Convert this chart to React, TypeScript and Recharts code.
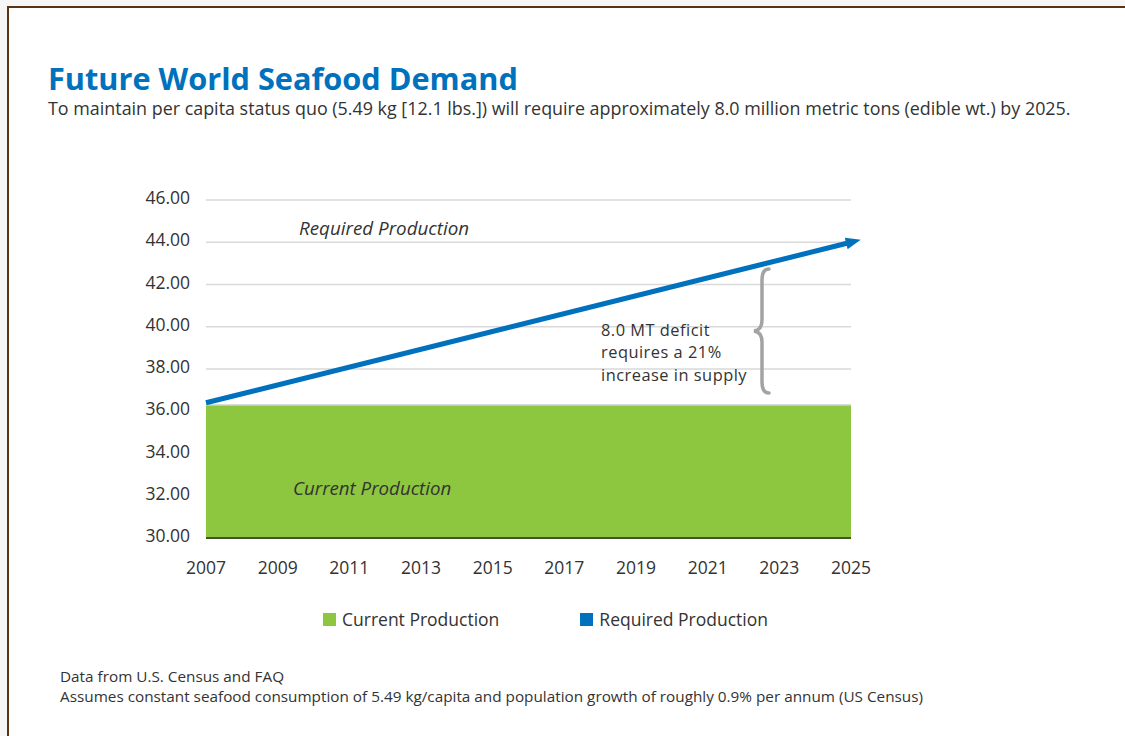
import React from 'react';
import { ComposedChart, Area, Line, XAxis, YAxis, CartesianGrid, Legend } from 'recharts';

// values
const years = [2007, 2025];
const currentProduction = [36.3, 36.3];
const requiredProduction = [36.4, 44.0];
const yTicks = [30, 32, 34, 36, 38, 40, 42, 44, 46];
const xTicks = [2007, 2009, 2011, 2013, 2015, 2017, 2019, 2021, 2023, 2025];
const deficitNote = ['8.0 MT deficit', 'requires a 21%', 'increase in supply'];

const data = years.map((year, i) => ({
  year,
  current: currentProduction[i],
  required: requiredProduction[i],
}));

const GREEN = '#8dc63f';
const BLUE = '#0071bc';
const TEXT = '#333333';
const FONT = '"Open Sans", "Noto Sans", sans-serif';

const legendColors: Record<string, string> = { current: GREEN, required: BLUE };

const LegendContent = (props: any) => {
  const { payload = [] } = props;
  return (
    <div style={{ display: 'flex', alignItems: 'center', fontFamily: FONT, fontSize: 17.5, color: TEXT }}>
      {payload.map((entry: any, i: number) => (
        <div key={`legend-${i}`} style={{ display: 'flex', alignItems: 'center', marginRight: i === 0 ? 81 : 0 }}>
          <span
            style={{
              display: 'inline-block',
              width: 13,
              height: 13,
              background: legendColors[entry.dataKey] ?? entry.color,
              marginRight: 6,
            }}
          />
          <span>{entry.value}</span>
        </div>
      ))}
    </div>
  );
};

const App: React.FC = () => {
  return (
    <div style={{ position: 'absolute', left: 0, top: 0, width: 1125, height: 736, background: '#f6f6f6', overflow: 'hidden' }}>
      <svg width={0} height={0} style={{ position: 'absolute' }}>
        <defs>
          <marker id="arrowHead" markerWidth={4} markerHeight={3} refX={1} refY={1.2} orient="auto" markerUnits="strokeWidth">
            <path d="M0,0 L3,1.2 L0,2.4 z" fill={BLUE} />
          </marker>
        </defs>
      </svg>
      <div
        style={{
          position: 'absolute',
          left: 7,
          top: 6,
          right: 0,
          bottom: 0,
          background: '#ffffff',
          borderTop: '2px solid #5a3216',
          borderLeft: '2px solid #5a3216',
        }}
      />
      <div style={{ position: 'absolute', left: 0, top: 0 }}>
        <ComposedChart
          width={1125}
          height={736}
          data={data}
          margin={{ top: 200, right: 274, left: 146, bottom: 168 }}
        >
          <CartesianGrid vertical={false} stroke="#d9d9d9" strokeWidth={1.5} />
          <XAxis
            dataKey="year"
            type="number"
            domain={[2007, 2025]}
            ticks={xTicks}
            height={30}
            tickSize={0}
            tickMargin={24}
            axisLine={{ stroke: '#47512a', strokeWidth: 2 }}
            tick={{ fill: TEXT, fontSize: 17.5, fontFamily: FONT }}
          />
          <YAxis
            type="number"
            domain={[30, 46]}
            ticks={yTicks}
            width={60}
            tickSize={0}
            tickMargin={16}
            axisLine={false}
            tickFormatter={(v: number) => v.toFixed(2)}
            tick={{ fill: TEXT, fontSize: 17.5, fontFamily: FONT, dy: -2 }}
          />
          <Legend
            layout="horizontal"
            verticalAlign="middle"
            align="center"
            content={<LegendContent />}
            wrapperStyle={{ top: 607, left: 323, width: 520 }}
          />
          <Area
            dataKey="current"
            name="Current Production"
            type="linear"
            baseValue={30}
            fill={GREEN}
            fillOpacity={1}
            stroke="#cfcfcf"
            strokeWidth={1.5}
            isAnimationActive={false}
          />
          <Line
            dataKey="required"
            name="Required Production"
            type="linear"
            stroke={BLUE}
            strokeWidth={5}
            dot={false}
            activeDot={false}
            markerEnd="url(#arrowHead)"
            isAnimationActive={false}
          />
        </ComposedChart>
      </div>
      <svg width={1125} height={736} style={{ position: 'absolute', left: 0, top: 0, pointerEvents: 'none' }}>
        <text x={48} y={90} fill="#0071bc" fontFamily={FONT} fontWeight={700} fontSize={30.7}>
          Future World Seafood Demand
        </text>
        <text x={48} y={115} fill={TEXT} fontFamily={FONT} fontSize={17.9}>
          To maintain per capita status quo (5.49 kg [12.1 lbs.]) will require approximately 8.0 million metric tons (edible wt.) by 2025.
        </text>
        <text x={299} y={235} fill={TEXT} fontFamily={FONT} fontStyle="italic" fontSize={18.8}>
          Required Production
        </text>
        <text x={293} y={495} fill={TEXT} fontFamily={FONT} fontStyle="italic" fontSize={18.7}>
          Current Production
        </text>
        {deficitNote.map((line, i) => (
          <text key={`note-${i}`} x={601} y={336 + i * 22.4} fill={TEXT} fontFamily={FONT} fontSize={16.4} letterSpacing={0.5}>
            {line}
          </text>
        ))}
        <path
          d="M769 269 Q762 269 762 280 L762 320 Q762 330 754 331 Q762 332 762 342 L762 382 Q762 393 769 393"
          fill="none"
          stroke="#a3a3a3"
          strokeWidth={3.5}
          strokeLinecap="round"
        />
        <text x={60} y={682} fill={TEXT} fontFamily={FONT} fontSize={15.3}>
          Data from U.S. Census and FAQ
        </text>
        <text x={60} y={702} fill={TEXT} fontFamily={FONT} fontSize={15.3}>
          Assumes constant seafood consumption of 5.49 kg/capita and population growth of roughly 0.9% per annum (US Census)
        </text>
      </svg>
    </div>
  );
};

export default App;
